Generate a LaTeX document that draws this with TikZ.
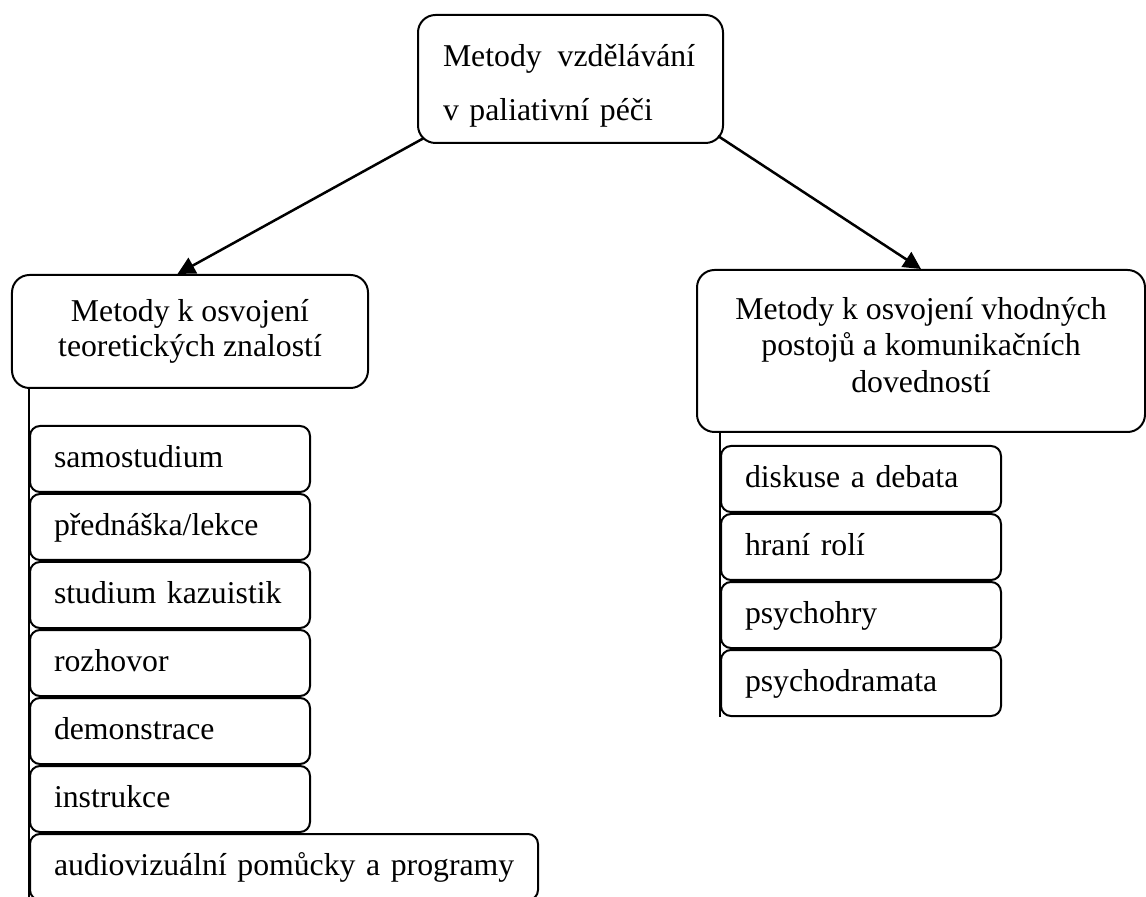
\documentclass[tikz,border=0pt]{standalone}
\usepackage{fontspec}
\setmainfont{Liberation Serif}
\usepackage{tikz}
\usetikzlibrary{arrows.meta,positioning,calc}

\begin{document}
\begin{tikzpicture}[x=0.4pt,y=-0.4pt,
    box/.style={draw, line width=0.8pt, rounded corners=7pt},
    item/.style={draw, line width=0.8pt, rounded corners=4pt, align=left,
      text width=92.8pt, inner xsep=9.6pt, minimum height=26.4pt,
      text height=9pt, text depth=2pt},
    tip/.style={line width=1pt, -{Triangle[length=7pt,width=7pt]}}]
  \fontsize{12.7pt}{14pt}\selectfont
  \useasboundingbox (0,0) rectangle (1146,897);
  % main boxes
  \node[box, minimum width=122pt, minimum height=51.2pt, text width=102pt, align=left,
    font=\fontsize{12.7pt}{21.6pt}\selectfont] (top) at (570.5,79)
    {\rule{0pt}{14pt}\mbox{Metody\hspace{0.5em}vzdělávání}\\ v paliativní péči};
  \node[box, minimum width=142.4pt, minimum height=45.2pt, align=center] (lbox) at (190,331.5)
    {Metody k osvojení\\ teoretických znalostí};
  \node[box, minimum width=179.2pt, minimum height=64.8pt, align=center,
    font=\fontsize{12.7pt}{14.5pt}\selectfont] (rbox) at (921,351)
    {Metody k osvojení vhodných\\ postojů a komunikačních\\ dovedností\rule[-5pt]{0pt}{5pt}};
  % left list
  \node[item, anchor=north west] (s1) at (29,425) {samostudium};
  \node[item, below=0pt of s1] (s2) {přednáška/lekce};
  \node[item, below=0pt of s2] (s3) {studium kazuistik};
  \node[item, below=0pt of s3] (s4) {rozhovor};
  \node[item, below=0pt of s4] (s5) {demonstrace};
  \node[item, below=0pt of s5] (s6) {instrukce};
  \node[item, below=0pt of s6.south west, anchor=north west, text width=184pt] (s7)
    {\mbox{audiovizuální pomůcky a programy}};
  \draw[line width=0.6pt] (lbox.south -| s1.west) -- (s7.south west);
  % right list
  \node[item, anchor=north west] (r1) at (720,445) {diskuse a debata};
  \node[item, below=0pt of r1] (r2) {hraní rolí};
  \node[item, below=0pt of r2] (r3) {psychohry};
  \node[item, below=0pt of r3] (r4) {psychodramata};
  \draw[line width=0.6pt] (rbox.south -| r1.west) -- (r4.south west);
  % arrows
  \path[tip] ($(top.south west)+(7,-6)$) edge ([xshift=-5pt]lbox.north);
  \path[tip] ($(top.south east)+(-6,-8)$) edge (rbox.north);
\end{tikzpicture}
\end{document}
